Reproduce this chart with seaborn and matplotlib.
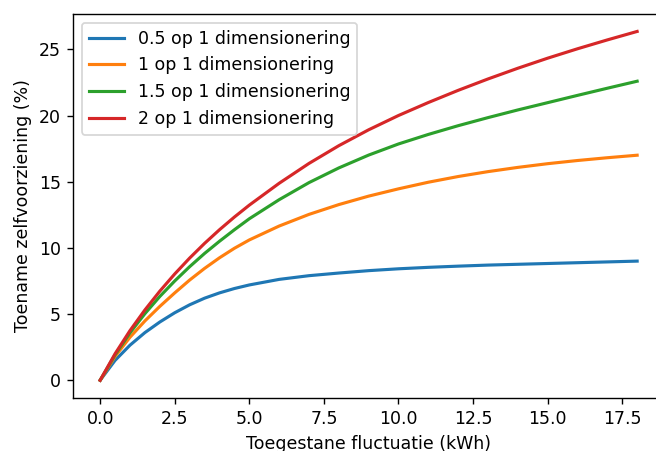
import matplotlib
matplotlib.use("Agg")
import matplotlib.pyplot as plt
import seaborn as sns
import pandas as pd

# Data
x_vals = [0, 0.5, 1, 1.5, 2, 2.5, 3, 3.5, 4, 4.5, 5, 6, 7, 8, 9, 10, 11, 12, 13, 14, 15, 16, 17, 18]
series_labels = ["0.5 op 1 dimensionering", "1 op 1 dimensionering",
                 "1.5 op 1 dimensionering", "2 op 1 dimensionering"]
blue_vals = [0, 1.5, 2.65, 3.6, 4.4, 5.1, 5.7, 6.2, 6.6, 6.93, 7.2, 7.62, 7.9, 8.1, 8.28,
             8.42, 8.53, 8.62, 8.7, 8.76, 8.82, 8.88, 8.94, 9.0]
orange_vals = [0, 1.8, 3.25, 4.48, 5.58, 6.6, 7.57, 8.45, 9.25, 9.97, 10.6, 11.65, 12.53,
               13.27, 13.91, 14.46, 14.96, 15.39, 15.76, 16.08, 16.36, 16.6, 16.81, 17.0]
green_vals = [0, 1.92, 3.58, 5.03, 6.33, 7.5, 8.58, 9.58, 10.5, 11.37, 12.2, 13.64, 14.93,
              16.04, 17.01, 17.85, 18.57, 19.23, 19.84, 20.42, 20.97, 21.52, 22.06, 22.59]
red_vals = [0, 2.0, 3.75, 5.31, 6.73, 8.03, 9.23, 10.34, 11.37, 12.33, 13.23, 14.88, 16.38,
            17.72, 18.92, 20.0, 20.98, 21.9, 22.76, 23.57, 24.33, 25.04, 25.71, 26.35]
colors = ["#1f77b4", "#ff7f0e", "#2ca02c", "#d62728"]
x_label = "Toegestane fluctuatie (kWh)"
y_label = "Toename zelfvoorziening (%)"

frames = []
for lab, vals in zip(series_labels, [blue_vals, orange_vals, green_vals, red_vals]):
    frames.append(pd.DataFrame({"x": x_vals, "y": vals, "serie": lab}))
df = pd.concat(frames, ignore_index=True)

fig = plt.figure(figsize=(656 / 125, 451 / 125), dpi=125)
ax = fig.add_axes([73.3 / 656, (451 - 397.7) / 451, (664 - 73.3) / 656, (397.7 - 14) / 451])

sns.lineplot(data=df, x="x", y="y", hue="serie", hue_order=series_labels,
             palette=colors, linewidth=1.8, ax=ax, estimator=None, sort=True)

ax.set_xticks([0, 2.5, 5, 7.5, 10, 12.5, 15, 17.5])
ax.set_xticklabels(["0.0", "2.5", "5.0", "7.5", "10.0", "12.5", "15.0", "17.5"])
ax.set_yticks([0, 5, 10, 15, 20, 25])
ax.set_xlabel(x_label)
ax.set_ylabel(y_label)
sns.move_legend(ax, "upper left", title=None)

fig.savefig("out.png", dpi=125)
